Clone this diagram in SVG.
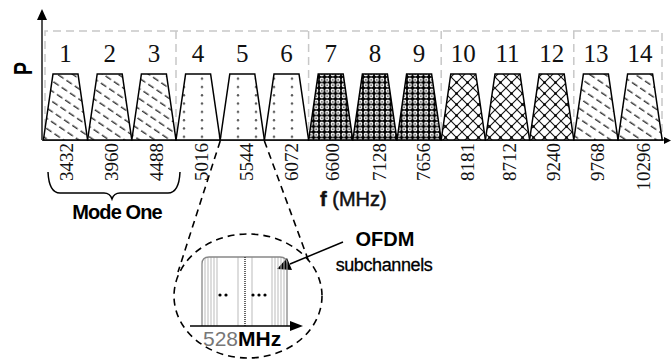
<svg xmlns="http://www.w3.org/2000/svg" width="672" height="360" viewBox="0 0 672 360">
<style>
.trap{stroke:#000;stroke-width:1.5;stroke-linejoin:miter}
.num{font-family:"Liberation Serif",serif;font-size:25px;fill:#111;text-anchor:middle}
.freq{font-family:"Liberation Serif",serif;font-size:19px;fill:#111;text-anchor:end}
.box{fill:none;stroke:#c8c8c8;stroke-width:1.5;stroke-dasharray:8 5}
.dash{fill:none;stroke:#000;stroke-width:1.6;stroke-dasharray:7 5}
.sans{font-family:"Liberation Sans",Arial,sans-serif}
.sub{stroke:#bbb;stroke-width:1}
</style>
<defs>
<pattern id="hatch" patternUnits="userSpaceOnUse" width="10" height="8.5" patternTransform="rotate(34)">
<rect width="10" height="8.5" fill="#fff"/>
<line x1="0" y1="4" x2="6.5" y2="4" stroke="#222" stroke-width="1.3"/>
</pattern>
<pattern id="dots" patternUnits="userSpaceOnUse" width="18" height="8.3">
<rect width="18" height="8.3" fill="#fff"/>
<circle cx="4" cy="4" r="1.2" fill="#555"/>
</pattern>
<pattern id="check" patternUnits="userSpaceOnUse" width="5.5" height="5.5">
<rect width="5.5" height="5.5" fill="#000"/>
<rect x="0.8" y="0.8" width="3.9" height="3.9" rx="1.3" fill="#fff"/>
<circle cx="2.75" cy="2.75" r="0.8" fill="#000"/>
</pattern>
<pattern id="cross" patternUnits="userSpaceOnUse" width="11" height="11">
<rect width="11" height="11" fill="#fff"/>
<path d="M0 0L11 11M11 0L0 11" stroke="#111" stroke-width="1.1"/>
<circle cx="5.5" cy="5.5" r="1.2" fill="#000"/>
</pattern>
</defs>

<g id="group-boxes">
<path class="box" d="M45 140V31H662V140M176 31V140M308.6 31V140M441.2 31V140M573.8 31V140"/>
</g>

<g id="axes">
<line x1="42" y1="18" x2="42" y2="140" stroke="#555" stroke-width="2"/>
<polygon points="42,9 37,20 47,20" fill="#000"/>
<line x1="42" y1="140" x2="666" y2="140" stroke="#555" stroke-width="2"/>
<polygon points="671,140.5 664,137 664,144" fill="#000"/>
<text class="sans" font-weight="bold" font-size="26" textLength="13" lengthAdjust="spacingAndGlyphs" transform="translate(32,75) rotate(-90)">P</text>
</g>

<g id="ch1"><path class="trap" fill="url(#hatch)" d="M43.4 140L53 74H78L87.6 140Z"/><text class="num" x="65.5" y="62">1</text></g>
<g id="ch2"><path class="trap" fill="url(#hatch)" d="M87.6 140L97.2 74H122.2L131.8 140Z"/><text class="num" x="109.7" y="62">2</text></g>
<g id="ch3"><path class="trap" fill="url(#hatch)" d="M131.8 140L141.4 74H166.4L176 140Z"/><text class="num" x="153.9" y="62">3</text></g>
<g id="ch4"><path class="trap" fill="url(#dots)" d="M176 140L185.6 74H210.6L220.2 140Z"/><text class="num" x="198.1" y="62">4</text></g>
<g id="ch5"><path class="trap" fill="url(#dots)" d="M220.2 140L229.8 74H254.8L264.4 140Z"/><text class="num" x="242.3" y="62">5</text></g>
<g id="ch6"><path class="trap" fill="url(#dots)" d="M264.4 140L274 74H299L308.6 140Z"/><text class="num" x="286.5" y="62">6</text></g>
<g id="ch7"><path class="trap" fill="url(#check)" d="M308.6 140L318.2 74H343.2L352.8 140Z"/><text class="num" x="330.7" y="62">7</text></g>
<g id="ch8"><path class="trap" fill="url(#check)" d="M352.8 140L362.4 74H387.4L397 140Z"/><text class="num" x="374.9" y="62">8</text></g>
<g id="ch9"><path class="trap" fill="url(#check)" d="M397 140L406.6 74H431.6L441.2 140Z"/><text class="num" x="419.1" y="62">9</text></g>
<g id="ch10"><path class="trap" fill="url(#cross)" d="M441.2 140L450.8 74H475.8L485.4 140Z"/><text class="num" x="463.3" y="62">10</text></g>
<g id="ch11"><path class="trap" fill="url(#cross)" d="M485.4 140L495 74H520L529.6 140Z"/><text class="num" x="507.5" y="62">11</text></g>
<g id="ch12"><path class="trap" fill="url(#cross)" d="M529.6 140L539.2 74H564.2L573.8 140Z"/><text class="num" x="551.7" y="62">12</text></g>
<g id="ch13"><path class="trap" fill="url(#hatch)" d="M573.8 140L583.4 74H608.4L618 140Z"/><text class="num" x="595.9" y="62">13</text></g>
<g id="ch14"><path class="trap" fill="url(#hatch)" d="M618 140L627.6 74H652.6L662.2 140Z"/><text class="num" x="640.1" y="62">14</text></g>

<g id="freq-labels">
<text class="freq" transform="translate(73,143) rotate(-90)">3432</text>
<text class="freq" transform="translate(118,143) rotate(-90)">3960</text>
<text class="freq" transform="translate(163,143) rotate(-90)">4488</text>
<text class="freq" transform="translate(208,143) rotate(-90)">5016</text>
<text class="freq" transform="translate(253,143) rotate(-90)">5544</text>
<text class="freq" transform="translate(298,143) rotate(-90)">6072</text>
<text class="freq" transform="translate(339,143) rotate(-90)">6600</text>
<text class="freq" transform="translate(386,143) rotate(-90)">7128</text>
<text class="freq" transform="translate(430,143) rotate(-90)">7656</text>
<text class="freq" transform="translate(474,143) rotate(-90)">8181</text>
<text class="freq" transform="translate(516,143) rotate(-90)">8712</text>
<text class="freq" transform="translate(560,143) rotate(-90)">9240</text>
<text class="freq" transform="translate(604,143) rotate(-90)">9768</text>
<text class="freq" transform="translate(650,143) rotate(-90)">10296</text>
</g>

<g id="mode-one">
<path d="M48 172Q49 193 60 193H104Q110 193 112 199Q114 193 120 193H168Q179 193 180 172" fill="none" stroke="#000" stroke-width="1.5"/>
<text class="sans" x="117" y="219" font-size="20" font-weight="bold" text-anchor="middle" letter-spacing="-0.9">Mode One</text>
</g>

<g id="axis-label">
<text class="sans" x="320" y="206" font-size="20" fill="#111" stroke="#111" stroke-width="0.5"><tspan font-weight="bold">f</tspan> (MHz)</text>
</g>

<g id="connectors">
<line class="dash" x1="220.2" y1="141" x2="178" y2="272"/>
<line class="dash" x1="264.4" y1="141" x2="309" y2="262"/>
<line x1="343" y1="242" x2="290" y2="264" stroke="#000" stroke-width="1.5"/>
<polygon points="277,269 287,258 292,270" fill="#000"/>
</g>

<g id="zoom-view">
<ellipse class="dash" cx="248" cy="296" rx="74" ry="62"/>
<g class="sub">
<line x1="205" y1="259" x2="205" y2="326"/><line x1="208" y1="258" x2="208" y2="326"/><line x1="211" y1="257" x2="211" y2="326"/><line x1="214" y1="257" x2="214" y2="326"/><line x1="217" y1="257" x2="217" y2="326"/>
<line x1="238" y1="257" x2="238" y2="326"/><line x1="252" y1="257" x2="252" y2="326"/>
<line x1="272" y1="257" x2="272" y2="326"/><line x1="275" y1="257" x2="275" y2="326"/><line x1="278" y1="257" x2="278" y2="326"/><line x1="281" y1="257" x2="281" y2="326"/><line x1="284" y1="258" x2="284" y2="326"/>
</g>
<path d="M202 326V264Q202 257 209 257H280Q287 257 287 264V326" fill="none" stroke="#888" stroke-width="1.3"/>
<line x1="245" y1="257" x2="245" y2="326" stroke="#333" stroke-width="1.5" stroke-dasharray="1 1"/>
<circle cx="220" cy="295" r="1.6"/><circle cx="226" cy="295" r="1.6"/>
<circle cx="253" cy="295" r="1.6"/><circle cx="259" cy="295" r="1.6"/><circle cx="265" cy="295" r="1.6"/>
<line x1="190" y1="326" x2="292" y2="326" stroke="#000" stroke-width="1.5"/>
<polygon points="303,326 290,321 290,331" fill="#000"/>
<text class="sans" x="203" y="346" font-size="21"><tspan fill="#777">528</tspan><tspan font-weight="bold" fill="#000">MHz</tspan></text>
</g>

<g id="ofdm-label">
<text class="sans" x="385" y="246" font-size="20" font-weight="bold" text-anchor="middle">OFDM</text>
<text class="sans" x="384" y="271" font-size="18" text-anchor="middle" letter-spacing="-0.4" stroke="#000" stroke-width="0.3">subchannels</text>
</g>
</svg>
